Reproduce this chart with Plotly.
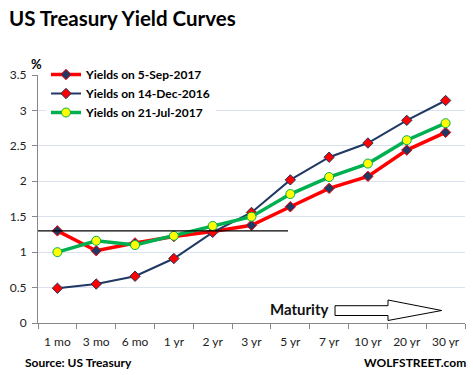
import plotly.graph_objects as go

maturities = ["1 mo", "3 mo", "6 mo", "1 yr", "2 yr", "3 yr", "5 yr", "7 yr", "10 yr", "20 yr", "30 yr"]
yields_sep2017 = [1.30, 1.02, 1.13, 1.22, 1.29, 1.38, 1.64, 1.90, 2.07, 2.44, 2.69]
yields_dec2016 = [0.49, 0.55, 0.66, 0.91, 1.28, 1.56, 2.02, 2.34, 2.54, 2.86, 3.14]
yields_jul2017 = [1.00, 1.16, 1.10, 1.23, 1.37, 1.50, 1.82, 2.06, 2.25, 2.58, 2.82]
ref_level = 1.30

W, H = 473, 375
ML, MR, MT, MB = 38, 8, 75, 52
FONT = "Lato"
NAVY = "#1f3864"

def px(x):
    return (x - ML) / (W - ML - MR)

def py(y):
    return (H - MB - y) / (H - MT - MB)

fig = go.Figure()
fig.add_trace(go.Scatter(
    x=maturities, y=yields_sep2017, name="<b>Yields on 5-Sep-2017</b>", mode="lines+markers",
    line=dict(color="#ff0000", width=3.5),
    marker=dict(symbol="diamond", size=8, color=NAVY, line=dict(color="#ff0000", width=1))))
fig.add_trace(go.Scatter(
    x=maturities, y=yields_dec2016, name="<b>Yields on 14-Dec-2016</b>", mode="lines+markers",
    line=dict(color=NAVY, width=2),
    marker=dict(symbol="diamond", size=8, color="#ff0000", line=dict(color=NAVY, width=1))))
fig.add_trace(go.Scatter(
    x=maturities, y=yields_jul2017, name="<b>Yields on 21-Jul-2017</b>", mode="lines+markers",
    line=dict(color="#00b050", width=3.5),
    marker=dict(symbol="circle", size=9, color="#ffff00", line=dict(color="#00b050", width=1))))

# reference horizontal line
fig.add_shape(type="line", xref="paper", yref="y", x0=0, x1=px(288), y0=ref_level, y1=ref_level,
              line=dict(color="black", width=1.3))

# Maturity arrow
pts = [(335, 305.7), (388, 305.7), (388, 300), (441.7, 310.5), (388, 320.5), (388, 315.5), (335, 315.5)]
path = "M " + " L ".join(f"{px(a):.4f},{py(b):.4f}" for a, b in pts) + " Z"
fig.add_shape(type="path", xref="paper", yref="paper", path=path,
              line=dict(color="black", width=1), fillcolor="white")

fig.add_annotation(text="<b>Maturity</b>", xref="paper", yref="paper", x=px(331), y=py(309),
                   xanchor="right", yanchor="middle", showarrow=False,
                   font=dict(family=FONT, size=15, color="#111111"))

fig.add_annotation(text="<b>US Treasury Yield Curves</b>", xref="paper", yref="paper",
                   x=px(7), y=py(18), xanchor="left", yanchor="middle", showarrow=False,
                   font=dict(family=FONT, size=20.5, color="black"))
fig.add_annotation(text="<b>%</b>", xref="paper", yref="paper",
                   x=px(36), y=py(64), xanchor="center", yanchor="middle", showarrow=False,
                   font=dict(family=FONT, size=13, color="black"))
fig.add_annotation(text="<b>Source: US Treasury</b>", xref="paper", yref="paper",
                   x=px(23), y=py(362), xanchor="left", yanchor="middle", showarrow=False,
                   font=dict(family=FONT, size=12, color="black"))
fig.add_annotation(text="<b>WOLFSTREET.com</b>", xref="paper", yref="paper",
                   x=px(468), y=py(362), xanchor="right", yanchor="middle", showarrow=False,
                   font=dict(family=FONT, size=12, color="black"))

fig.update_layout(
    width=W, height=H, margin=dict(l=ML, r=MR, t=MT, b=MB),
    paper_bgcolor="white", plot_bgcolor="white",
    font=dict(family=FONT, size=12, color="#222222"),
    showlegend=True,
    legend=dict(x=px(46), y=py(60), xanchor="left", yanchor="top", bgcolor="white",
                font=dict(family=FONT, size=12, color="black"), tracegroupgap=0,
                borderwidth=0),
    xaxis=dict(type="category", showgrid=False, showline=True, linecolor="#888888", linewidth=1,
               ticks="outside", ticklen=5, tickcolor="#888888", tickson="boundaries",
               ticklabelstandoff=8,
               tickfont=dict(family=FONT, size=12, color="#222222"), range=[-0.5, 10.5]),
    yaxis=dict(range=[0, 3.5], dtick=0.5, showgrid=True, gridcolor="#d9e2ee", gridwidth=1,
               showline=True, linecolor="#888888", linewidth=1, ticks="outside", ticklen=5,
               tickcolor="#888888", zeroline=False, ticklabelstandoff=3,
               tickfont=dict(family=FONT, size=12, color="#222222")),
)

fig.write_html("out.html", config={"displayModeBar": False},
               post_script="document.body.style.margin='0';document.body.style.padding='0';")
